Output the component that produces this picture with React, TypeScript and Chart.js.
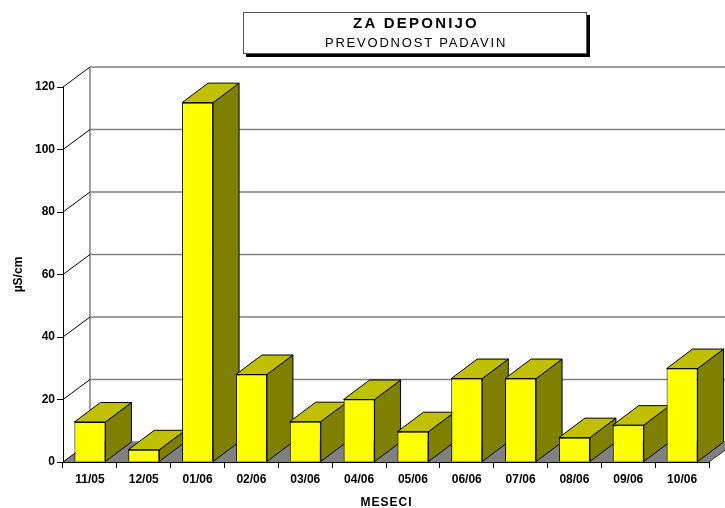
import React, { useEffect, useRef } from "react";
import { Chart, registerables } from "chart.js";

Chart.register(...registerables);

const categories = ["11/05", "12/05", "01/06", "02/06", "03/06", "04/06", "05/06", "06/06", "07/06", "08/06", "09/06", "10/06"];
const conductivity = [12.8, 3.9, 115, 28, 12.9, 20, 9.7, 26.7, 26.7, 7.8, 11.8, 29.9];
const yTicks = [0, 20, 40, 60, 80, 100, 120];
const titleText = "ZA DEPONIJO";
const subtitleText = "PREVODNOST PADAVIN";
const yAxisTitle = "µS/cm";
const xAxisTitle = "MESECI";

const FONT = "'Liberation Sans', Arial, sans-serif";
const WDX = 27;
const WDY = -20;
const BDX = 26;
const BDY = -19.5;

const threeD = {
  id: "threeD",
  beforeDatasetsDraw(chart: any) {
    const { ctx, chartArea } = chart;
    const { left, right, bottom } = chartArea;
    const ys = chart.scales.y;
    ctx.save();
    // floor
    ctx.fillStyle = "#808080";
    ctx.beginPath();
    ctx.moveTo(left, bottom);
    ctx.lineTo(right, bottom);
    ctx.lineTo(right + WDX, bottom + WDY);
    ctx.lineTo(left + WDX, bottom + WDY);
    ctx.closePath();
    ctx.fill();
    // floor right edge
    ctx.strokeStyle = "#333";
    ctx.lineWidth = 1;
    ctx.beginPath();
    ctx.moveTo(right, bottom);
    ctx.lineTo(right + WDX, bottom + WDY);
    ctx.stroke();
    // back wall gridlines
    ctx.strokeStyle = "#808080";
    ctx.lineWidth = 1.5;
    for (const v of yTicks) {
      const py = ys.getPixelForValue(v) + WDY;
      ctx.beginPath();
      ctx.moveTo(left + WDX, py);
      ctx.lineTo(chart.width, py);
      ctx.stroke();
    }
    // back wall left edge
    ctx.beginPath();
    ctx.moveTo(left + WDX, ys.getPixelForValue(0) + WDY);
    ctx.lineTo(left + WDX, ys.getPixelForValue(yTicks[yTicks.length - 1]) + WDY);
    ctx.stroke();
    // side wall diagonals
    ctx.strokeStyle = "#000";
    ctx.lineWidth = 1;
    for (const v of yTicks) {
      const py = ys.getPixelForValue(v);
      ctx.beginPath();
      ctx.moveTo(left, py);
      ctx.lineTo(left + WDX, py + WDY);
      ctx.stroke();
    }
    // front floor edge (x axis)
    ctx.beginPath();
    ctx.moveTo(left, bottom + 0.5);
    ctx.lineTo(right, bottom + 0.5);
    ctx.stroke();

    // bar sides and tops
    const meta = chart.getDatasetMeta(0);
    meta.data.forEach((bar: any) => {
      const p = bar.getProps(["x", "y", "base", "width"], true);
      const l = p.x - p.width / 2;
      const r = p.x + p.width / 2;
      const t = p.y;
      const b = p.base;
      ctx.lineWidth = 1;
      ctx.strokeStyle = "#000";
      ctx.lineJoin = "miter";
      // side
      ctx.fillStyle = "#808000";
      ctx.beginPath();
      ctx.moveTo(r, t);
      ctx.lineTo(r + BDX, t + BDY);
      ctx.lineTo(r + BDX, b + BDY);
      ctx.lineTo(r, b);
      ctx.closePath();
      ctx.fill();
      ctx.stroke();
      // top
      ctx.fillStyle = "#C0C000";
      ctx.beginPath();
      ctx.moveTo(l, t);
      ctx.lineTo(l + BDX, t + BDY);
      ctx.lineTo(r + BDX, t + BDY);
      ctx.lineTo(r, t);
      ctx.closePath();
      ctx.fill();
      ctx.stroke();
    });
    ctx.restore();
  },
  afterDraw(chart: any) {
    const { ctx, chartArea } = chart;
    ctx.save();
    // title box
    const bx = 243, by = 12, bw = 344, bh = 42;
    ctx.fillStyle = "#000";
    ctx.fillRect(bx + 3, by + 3, bw, bh);
    ctx.fillStyle = "#fff";
    ctx.fillRect(bx, by, bw, bh);
    ctx.strokeStyle = "#555";
    ctx.lineWidth = 1;
    ctx.strokeRect(bx + 0.5, by + 0.5, bw - 1, bh - 1);
    ctx.fillStyle = "#000";
    ctx.textAlign = "center";
    ctx.textBaseline = "alphabetic";
    (ctx as any).letterSpacing = "2.2px";
    ctx.font = `bold 15px ${FONT}`;
    ctx.fillText(titleText, bx + bw / 2 + 1, 27.5);
    (ctx as any).letterSpacing = "1.8px";
    ctx.font = `13px ${FONT}`;
    ctx.fillText(subtitleText, bx + bw / 2 + 1, 46.7);
    // x axis title
    (ctx as any).letterSpacing = "1px";
    ctx.font = `bold 12px ${FONT}`;
    ctx.fillText(xAxisTitle, (chartArea.left + chartArea.right) / 2 + 0.5, 505.5);
    // y axis title
    (ctx as any).letterSpacing = "0px";
    ctx.translate(18.5, (chartArea.top + chartArea.bottom) / 2);
    ctx.rotate(-Math.PI / 2);
    ctx.textBaseline = "middle";
    ctx.fillText(yAxisTitle, 0, 0);
    ctx.restore();
  },
};

export default function App() {
  const ref = useRef<HTMLCanvasElement>(null);
  useEffect(() => {
    const chart = new Chart(ref.current as HTMLCanvasElement, {
      type: "bar",
      data: {
        labels: categories,
        datasets: [
          {
            data: conductivity,
            backgroundColor: "#FFFF00",
            borderColor: "#000",
            borderWidth: 1,
            barPercentage: 0.576,
            categoryPercentage: 1,
          },
        ],
      },
      options: {
        responsive: false,
        animation: false,
        events: [],
        layout: { padding: { top: 87, right: 16, left: 0, bottom: 0 } },
        plugins: {
          legend: { display: false },
          title: { display: false },
          tooltip: { enabled: false },
        },
        scales: {
          x: {
            grid: {
              display: true,
              drawOnChartArea: false,
              drawTicks: true,
              tickLength: 6,
              color: "#000",
              offset: true,
            },
            border: { display: true, color: "#000", width: 1 },
            ticks: {
              color: "#000",
              font: { family: FONT, size: 12, weight: "bold" },
              padding: 4,
              maxRotation: 0,
              autoSkip: false,
            },
            afterFit: (s: any) => {
              s.height = 46;
            },
          },
          y: {
            min: 0,
            max: 120,
            afterBuildTicks: (s: any) => {
              s.ticks = yTicks.map((v) => ({ value: v }));
            },
            grid: { drawOnChartArea: false, tickLength: 6, color: "#000" },
            border: { display: true, color: "#000", width: 1 },
            ticks: {
              color: "#000",
              font: { family: FONT, size: 12, weight: "bold" },
              padding: 2,
            },
            afterFit: (s: any) => {
              s.width = 63;
            },
          },
        },
      },
      plugins: [threeD],
    } as any);
    return () => chart.destroy();
  }, []);
  return (
    <div style={{ position: "fixed", left: 0, top: 0, width: 725, height: 508, background: "#fff" }}>
      <canvas ref={ref} width={725} height={508} style={{ display: "block", width: 725, height: 508 }} />
    </div>
  );
}
